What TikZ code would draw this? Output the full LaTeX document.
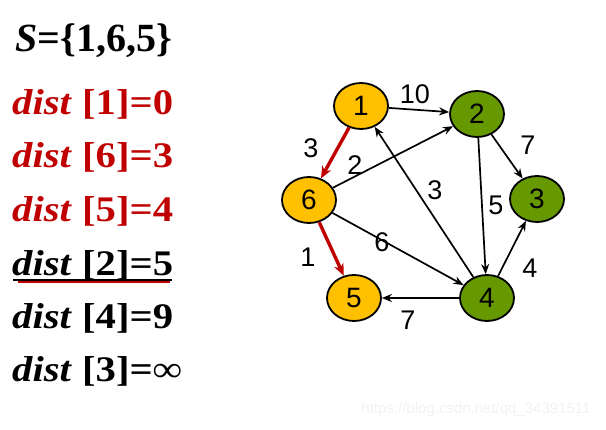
\documentclass[tikz,border=0pt]{standalone}
\usepackage{fontspec}
\setmainfont{Liberation Serif}
\newfontfamily\graphfont{Liberation Sans}
\usetikzlibrary{arrows.meta, shapes.geometric}

\definecolor{distred}{HTML}{C00000}
\definecolor{doneorange}{HTML}{FFC000}
\definecolor{opengreen}{HTML}{669900}

\newcommand{\wide}[1]{\scalebox{1.13}[1]{#1}}

\begin{document}
\begin{tikzpicture}[x=1pt,y=-1pt]
\useasboundingbox (0,0) rectangle (606,430);

% left column
\begin{scope}[every node/.style={anchor=base west,inner sep=0pt,font=\bfseries\fontsize{36}{36}\selectfont}]
    \node (set) at (15,52) [font=\bfseries\fontsize{40}{40}\selectfont] {\textit{S}=\{1,6,5\}};
    \node (d1) at (12,115) [text=distred] {\wide{\textit{dist} [1]=0}};
    \node (d6) at (12,168) [text=distred] {\wide{\textit{dist} [6]=3}};
    \node (d5) at (12,222) [text=distred] {\wide{\textit{dist} [5]=4}};
    \node (d2) at (12,276) {\wide{\textit{dist} [2]=5}};
    \node (d4) at (12,329) {\wide{\textit{dist} [4]=9}};
    \node (d3) at (12,382) {\wide{\textit{dist} [3]=∞}};
\end{scope}
\draw[line width=1.2pt] (13,280) -- (172,280);
\draw[distred,line width=2.6pt] (18,282) -- (170,282);

% graph
\begin{scope}[every node/.style={ellipse,draw=black,line width=1.8pt,minimum width=54pt,minimum height=46pt,inner sep=0pt,font=\graphfont\fontsize{28}{28}\selectfont}]
    \node (1) at (361,106) [fill=doneorange] {1};
    \node (2) at (477,114) [fill=opengreen] {2};
    \node (3) at (537,199) [fill=opengreen] {3};
    \node (6) at (309,200) [fill=doneorange] {6};
    \node (5) at (354,298) [fill=doneorange] {5};
    \node (4) at (487,298) [fill=opengreen] {4};
\end{scope}

\begin{scope}[every node/.style={inner sep=0pt,font=\graphfont\fontsize{27}{27}\selectfont}]
    \node (w12) at (415,94) {10};
    \node (w16) at (311,148) {3};
    \node (w62) at (355,165) {2};
    \node (w23) at (528,145) {7};
    \node (w41) at (435,190) {3};
    \node (w24) at (496,205) {5};
    \node (w64) at (382,242) {6};
    \node (w65) at (308,257) {1};
    \node (w43) at (530,268) {4};
    \node (w45) at (408,320) {7};
\end{scope}

\begin{scope}[>={Stealth[length=10pt,width=8pt]},
              every edge/.style={draw=black,line width=1.7pt}]
    \path [->] (1) edge (2);
    \path [->] (6) edge (2);
    \path [->] (2) edge (3);
    \path [->] (4) edge (1);
    \path [->] (2) edge (4);
    \path [->] (6) edge (4);
    \path [->] (4) edge (3);
    \path [->] (4) edge (5);
\end{scope}

\begin{scope}[>={Stealth[length=12pt,width=10pt]},
              every edge/.style={draw=distred,line width=3.4pt}]
    \path [->] (1) edge (6);
    \path [->] (6) edge (5);
\end{scope}

\node (mark) at (476,410) [text=black!5,font=\graphfont\fontsize{15}{15}\selectfont] {https://blog.csdn.net/qq\_34391511};
\end{tikzpicture}
\end{document}
